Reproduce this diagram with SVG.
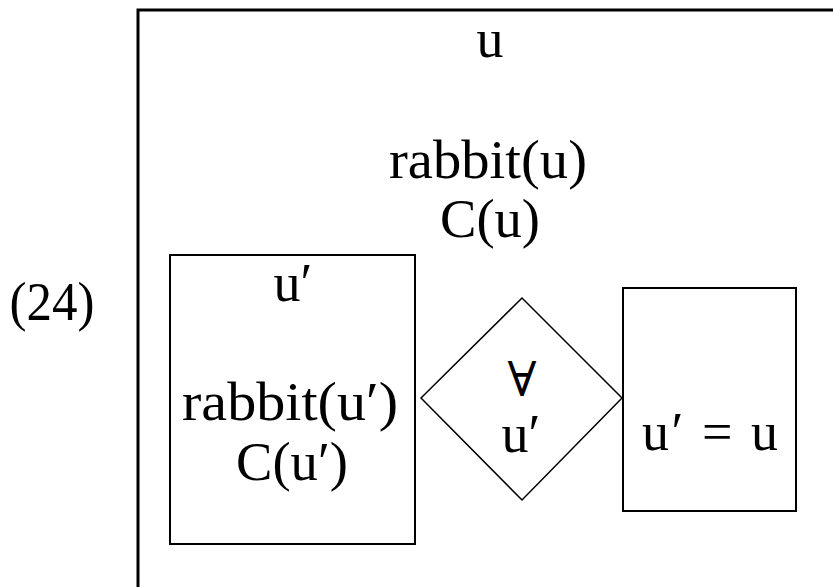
<svg xmlns="http://www.w3.org/2000/svg" width="833" height="587" viewBox="0 0 833 587">
<style>
text{font-family:"Liberation Serif","DejaVu Serif",serif;font-size:54px;fill:#000;text-anchor:middle}
.box{fill:none;stroke:#000;stroke-width:2}
</style>
<rect width="833" height="587" fill="#fff"/>
<text x="52" y="320" textLength="85" lengthAdjust="spacingAndGlyphs">(24)</text>
<g id="outer">
<path d="M138,590 V10 H840" fill="none" stroke="#000" stroke-width="3"/>
<text x="490" y="57">u</text>
<text x="488" y="178" textLength="198" lengthAdjust="spacingAndGlyphs">rabbit(u)</text>
<text x="490" y="237" textLength="100" lengthAdjust="spacingAndGlyphs">C(u)</text>
</g>
<g id="antecedent">
<rect class="box" x="170" y="255" width="245" height="289"/>
<text x="293" y="301">u′</text>
<text x="290" y="420" textLength="216" lengthAdjust="spacingAndGlyphs">rabbit(u′)</text>
<text x="292" y="480" textLength="112" lengthAdjust="spacingAndGlyphs">C(u′)</text>
</g>
<g id="quantifier">
<polygon points="421,398 522,298 622,398 522,500" fill="none" stroke="#000" stroke-width="1.5"/>
<text x="522" y="396" style="font-size:48px">∀</text>
<text x="521" y="452">u′</text>
</g>
<g id="consequent">
<rect class="box" x="623" y="288" width="173" height="223"/>
<text x="710" y="450" textLength="136" lengthAdjust="spacing">u′ = u</text>
</g>
<g id="connectors"></g>
</svg>
